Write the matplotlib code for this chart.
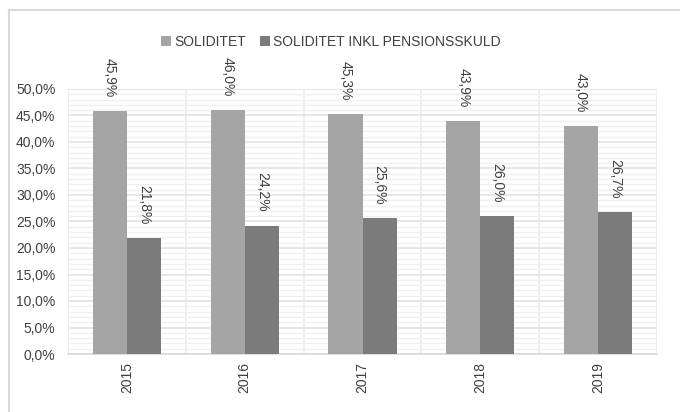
import numpy as np
import matplotlib.pyplot as plt
from matplotlib.ticker import MultipleLocator, FuncFormatter
from matplotlib.lines import Line2D

plt.rcParams['font.family'] = ['Liberation Sans', 'DejaVu Sans']

years = ['2015', '2016', '2017', '2018', '2019']
soliditet = [45.9, 46.0, 45.3, 43.9, 43.0]
soliditet_pension = [21.8, 24.2, 25.6, 26.0, 26.7]
series_names = ['SOLIDITET', 'SOLIDITET INKL PENSIONSSKULD']

c_light = '#A5A5A5'
c_dark = '#7B7B7B'
txt = '#404040'

fig = plt.figure(figsize=(6.8, 4.12), dpi=100)
ax = fig.add_axes([68 / 680, 1 - 354 / 412, 589 / 680, 265 / 412])

# chart frame
fig.add_artist(Line2D([9 / 680, 9 / 680], [0, 1 - 10 / 412], transform=fig.transFigure,
                      color='#D9D9D9', lw=1.5))
fig.add_artist(Line2D([9 / 680, 1], [1 - 10 / 412, 1 - 10 / 412], transform=fig.transFigure,
                      color='#D9D9D9', lw=1.5))

x = np.arange(len(years))
w = 0.29
b1 = ax.bar(x - w / 2, soliditet, w, color=c_light, label=series_names[0], zorder=3)
b2 = ax.bar(x + w / 2, soliditet_pension, w, color=c_dark, label=series_names[1], zorder=3)

def fmt(v):
    return f'{v:.1f}'.replace('.', ',') + '%'

for bars, vals in ((b1, soliditet), (b2, soliditet_pension)):
    for r, v in zip(bars, vals):
        ax.annotate(fmt(v), (r.get_x() + r.get_width() / 2, v), xytext=(0, 10),
                    textcoords='offset points', rotation=270, ha='center', va='bottom',
                    fontsize=10, color=txt, annotation_clip=False)

ax.set_xlim(-0.5, len(years) - 0.5)
ax.set_ylim(0, 50)
ax.yaxis.set_major_locator(MultipleLocator(5))
ax.yaxis.set_minor_locator(MultipleLocator(1))
ax.yaxis.set_major_formatter(FuncFormatter(lambda v, p: fmt(v)))
ax.set_xticks(x)
ax.set_xticklabels(years, rotation=90)
ax.set_xticks(np.arange(-0.5, len(years), 0.5), minor=True)

ax.grid(axis='y', which='major', color='#E3E3E3', lw=1.2, zorder=0)
ax.grid(axis='y', which='minor', color='#F0F0F0', lw=1.0, zorder=0)
ax.grid(axis='x', which='minor', color='#EBEBEB', lw=1.2, zorder=0)
ax.tick_params(which='both', length=0, labelsize=10, colors=txt, pad=6)
ax.tick_params(axis='y', labelsize=10, pad=9)

for s in ['top', 'right', 'left']:
    ax.spines[s].set_visible(False)
ax.spines['bottom'].set_color('#D9D9D9')
ax.spines['bottom'].set_linewidth(1.2)

fig.legend(loc='center', bbox_to_anchor=(0.487, 1 - 42 / 412), ncol=2, frameon=False,
           fontsize=10, handlelength=0.7, handleheight=0.7, handletextpad=0.25,
           columnspacing=1.0, labelcolor=txt)

fig.savefig('out.png', dpi=100)
